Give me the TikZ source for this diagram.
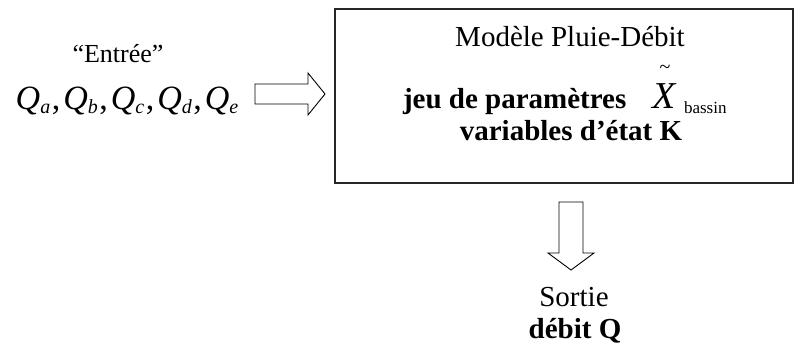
\documentclass[tikz,border=0pt]{standalone}
\usepackage{fontspec}
\setmainfont{Liberation Serif}
\begin{document}
\begin{tikzpicture}[x=1pt,y=-1pt,
  every node/.style={inner sep=0pt,outer sep=0pt},
  modelbox/.style={draw=black!85,line width=1.4pt},
  bigarrow/.style={draw=black,line width=0.9pt,fill=white,line join=miter},
  txt/.style={font=\fontsize{29}{33}\selectfont},
  btxt/.style={font=\fontsize{29}{33}\selectfont\bfseries},
]
\useasboundingbox (0,0) rectangle (795,353);

% input variables
\newcommand{\qvar}[1]{\textit{Q}\raisebox{-4pt}{\fontsize{20}{20}\selectfont\textit{#1}}}
\newcommand{\qsep}{\hspace{1.5pt},\hspace{3pt}}
\node[anchor=base,font=\fontsize{26}{30}\selectfont] (entree) at (118,63) {“Entrée”};
\node[anchor=base,font=\fontsize{34}{38}\selectfont] (qs) at (127,109)
  {\qvar{a}\qsep\qvar{b}\qsep\qvar{c}\qsep\qvar{d}\qsep\qvar{e}};

% model box
\node[modelbox,minimum width=458,minimum height=174,anchor=north west] (model) at (335,9) {};
\node[txt,anchor=base] (title) at (570,47) {Modèle Pluie-Débit};
\node[btxt,anchor=base west] (param) at (403,108) {jeu de paramètres};
\node[anchor=base,font=\fontsize{38}{38}\selectfont\itshape] (xvar) at (664,108) {X};
\node[anchor=center,font=\fontsize{20}{20}\selectfont] (tilde) at (665,69) {\textasciitilde};
\node[anchor=base west,font=\fontsize{17}{17}\selectfont] (bassin) at (684,113) {bassin};
\node[btxt,anchor=base] (etat) at (571,140) {variables d’état K};

% flow arrows
\draw[bigarrow] (255,84) -- (308,84) -- (308,73) -- (325,94) -- (308,115) -- (308,104) -- (255,104) -- cycle;
\draw[bigarrow] (559,202) -- (583,202) -- (583,253) -- (594,253) -- (571,270) -- (548,253) -- (559,253) -- cycle;

% output
\node[txt,anchor=base] (sortie) at (574,306) {Sortie};
\node[btxt,anchor=base] (debit) at (575,338) {débit Q};
\end{tikzpicture}
\end{document}
